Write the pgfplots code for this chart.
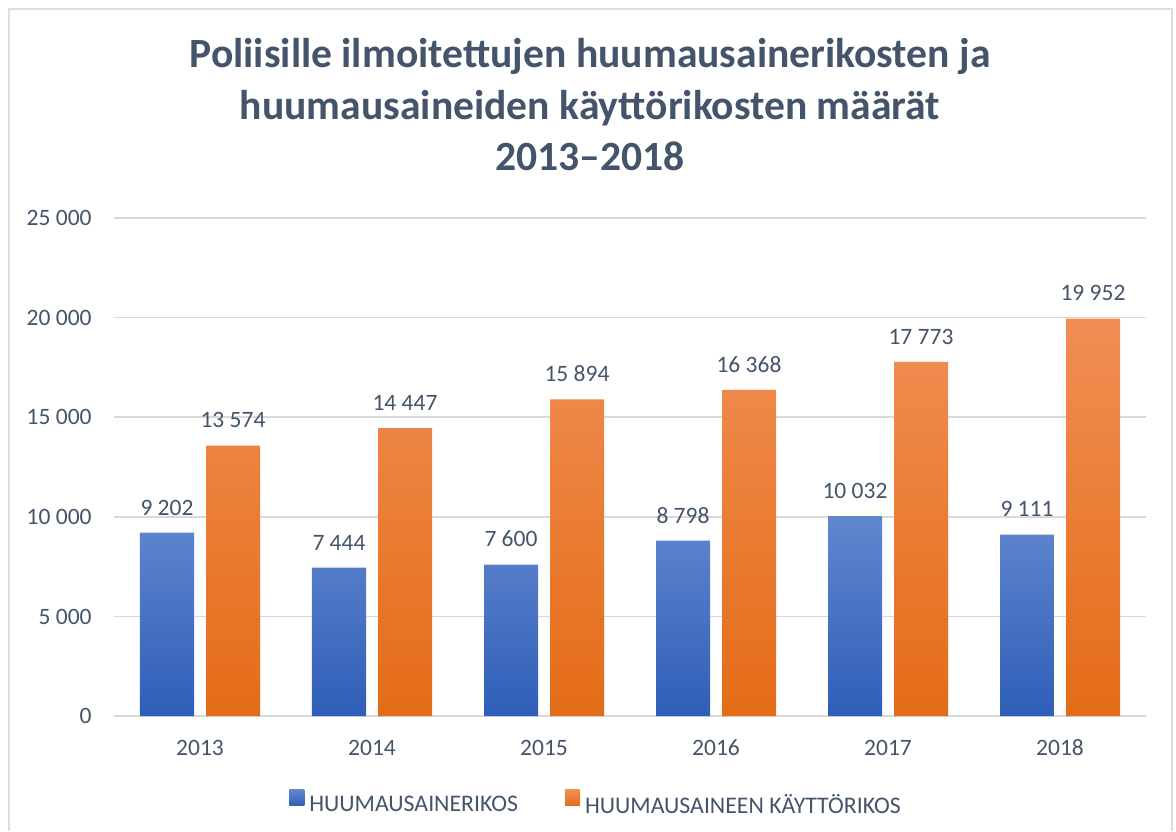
\documentclass[border=0pt]{standalone}
\usepackage{pgfplots}
\pgfplotsset{compat=1.18}
\usepackage{fontspec}
\setmainfont{Carlito}
\definecolor{txt}{HTML}{44546A}
\definecolor{gridc}{HTML}{D9D9D9}
\definecolor{framec}{HTML}{D9DEE6}
\definecolor{bluetop}{HTML}{6186CE}
\definecolor{bluebot}{HTML}{2E5EB8}
\definecolor{orgtop}{HTML}{F18E54}
\definecolor{orgbot}{HTML}{E46C17}
\begin{document}
\begin{tikzpicture}
\path[use as bounding box] (0,0) rectangle (588pt,415.5pt);
\draw[framec, line width=1pt] (4.5pt,0) -- (4.5pt,411pt) -- (586pt,411pt) -- (586pt,0);
\begin{scope}[every node/.style={anchor=base, inner sep=0pt, text=txt, font=\fontsize{20.8}{24}\selectfont\bfseries}]
\node at (295pt,381.5pt) {Poliisille ilmoitettujen huumausainerikosten ja};
\node at (295pt,355.75pt) {huumausaineiden käyttörikosten määrät};
\node at (295pt,330pt) {2013–2018};
\end{scope}
\begin{axis}[
  at={(57pt,57.5pt)}, anchor=south west,
  scale only axis, width=516pt, height=249pt,
  xmin=-0.5, xmax=5.5, ymin=0, ymax=25000,
  xtick={0,1,2,3,4,5},
  xticklabels={2013,2014,2015,2016,2017,2018},
  ytick={0,5000,10000,15000,20000,25000},
  scaled y ticks=false,
  ymajorgrids,
  grid style={gridc, line width=0.75pt},
  axis line style={draw=none},
  major tick length=0pt,
  tick label style={font=\fontsize{11.75}{14}\selectfont, text=txt},
  xticklabel style={anchor=base, inner sep=0pt, yshift=-19.5pt},
  yticklabel style={anchor=base east, inner sep=0pt, xshift=-11pt, yshift=-3.85pt},
  /pgf/number format/1000 sep={\ },
  /pgf/number format/assume math mode=true,
  ybar, bar width=27pt,
  nodes near coords,
  nodes near coords style={font=\fontsize{11.75}{14}\selectfont, text=txt, anchor=base, inner sep=0pt, yshift=8.85pt},
  legend style={at={(0.4661,-0.1747)}, anchor=center, draw=none, fill=none,
    legend columns=2, font=\fontsize{11.9}{14}\selectfont, text=txt,
    inner sep=0pt, nodes={inner sep=0pt},
    /tikz/every odd column/.append style={column sep=2.5pt},
    /tikz/every even column/.append style={column sep=23.5pt}},
  legend image code/.code={\path[#1, draw=none] (0pt,-0.5pt) rectangle (7.5pt,7.5pt);},
]
\addplot[bar shift=-16.5pt, draw=none, top color=bluetop, bottom color=bluebot]
  coordinates {(0,9202) (1,7444) (2,7600) (3,8798) (4,10032) (5,9111)};
\addplot[bar shift=16.5pt, draw=none, top color=orgtop, bottom color=orgbot]
  coordinates {(0,13574) (1,14447) (2,15894) (3,16368) (4,17773) (5,19952)};
\legend{HUUMAUSAINERIKOS, HUUMAUSAINEEN KÄYTTÖRIKOS}
\end{axis}
\end{tikzpicture}
\end{document}
